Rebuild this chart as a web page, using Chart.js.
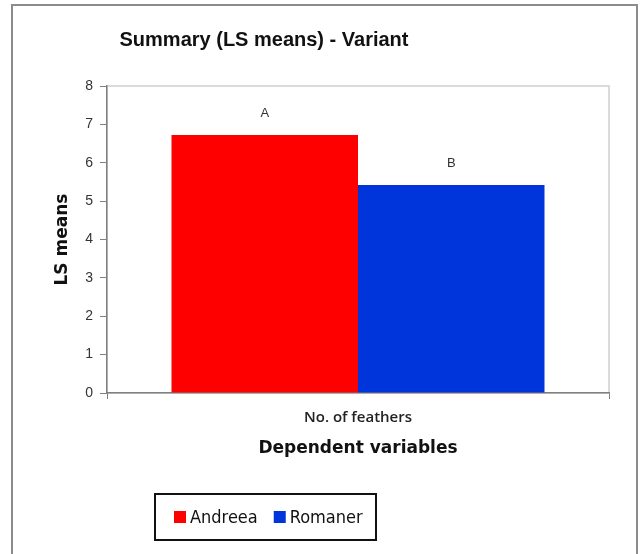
<!DOCTYPE html>
<html>
<head>
<meta charset="utf-8">
<script src="https://cdn.jsdelivr.net/npm/chart.js@4"></script>
<style>
  html, body { margin: 0; padding: 0; background: #fff; }
  #wrap { width: 644px; height: 554px; }
</style>
</head>
<body>
<div id="wrap"><canvas id="BarChart"></canvas></div>
<script>
// chart values
const categories = ["No. of feathers"];
const seriesNames = ["Andreea", "Romaner"];
const andreeaValues = [6.72];
const romanerValues = [5.42];
const groupLetters = [["A"], ["B"]];
const yTicks = [0, 1, 2, 3, 4, 5, 6, 7, 8];

const red = "#ff0000", blue = "#0035dc";

// frame, plot border, title, letters and legend box
const decor = {
    id: "decor",
    beforeDraw(chart){
        const ctx = chart.ctx;
        ctx.save();
        ctx.fillStyle = "#fff";
        ctx.fillRect(0, 0, chart.width, chart.height);
        ctx.strokeStyle = "#8c8c8c";
        ctx.lineWidth = 2;
        ctx.strokeRect(12, 5, 625, 560);
        const a = chart.chartArea;
        ctx.strokeStyle = "#cfcfcf";
        ctx.lineWidth = 1.5;
        ctx.strokeRect(a.left, a.top, a.right - a.left, a.bottom - a.top);
        ctx.restore();
    },
    afterDraw(chart){
        const ctx = chart.ctx;
        ctx.save();
        // title
        ctx.fillStyle = "#111";
        ctx.font = "bold 20px 'Liberation Sans', Arial, sans-serif";
        ctx.textAlign = "center";
        ctx.textBaseline = "middle";
        ctx.fillText("Summary (LS means) - Variant", 264, 40);
        // letters above bars
        ctx.font = "13px 'Liberation Sans', Arial, sans-serif";
        ctx.fillStyle = "#333";
        chart.data.datasets.forEach((ds, i) => {
            chart.getDatasetMeta(i).data.forEach((bar, j) => {
                ctx.fillText(groupLetters[i][j], bar.x, bar.y - 22);
            });
        });
        // legend
        ctx.strokeStyle = "#111";
        ctx.lineWidth = 2;
        ctx.strokeRect(155, 494, 221, 46);
        ctx.font = "18px 'DejaVu Sans Condensed', 'DejaVu Sans', sans-serif";
        ctx.textAlign = "left";
        let x = 174;
        chart.data.datasets.forEach(ds => {
            ctx.fillStyle = ds.backgroundColor;
            ctx.fillRect(x, 511, 12, 12);
            ctx.fillStyle = "#111";
            ctx.fillText(ds.label, x + 16, 518);
            x += 16 + ctx.measureText(ds.label).width + 16;
        });
        ctx.restore();
    }
};

new Chart(document.getElementById("BarChart"), {
    type: "bar",
    data: {
        labels: categories,
        datasets: [
            { label: seriesNames[0], data: andreeaValues, backgroundColor: red },
            { label: seriesNames[1], data: romanerValues, backgroundColor: blue }
        ]
    },
    options: {
        responsive: true,
        maintainAspectRatio: false,
        animation: false,
        layout: { padding: { left: 52, right: 35, top: 86, bottom: 91 } },
        datasets: { bar: { categoryPercentage: 0.743, barPercentage: 1.0 } },
        plugins: {
            legend: { display: false },
            title: { display: false },
            tooltip: { enabled: false }
        },
        scales: {
            x: {
                grid: { display: true, drawOnChartArea: false, offset: true, tickLength: 6, color: "#808080" },
                border: { display: true, color: "#808080", width: 1.5 },
                ticks: { padding: 10, color: "#222", font: { family: "'Open Sans', sans-serif", size: 15, weight: "600" } },
                title: {
                    display: true, text: "Dependent variables", color: "#111",
                    font: { family: "'DejaVu Sans', sans-serif", size: 17, weight: "bold" },
                    padding: { top: 4, bottom: 4 }
                },
                afterFit(scale){ scale.height = 70; }
            },
            y: {
                min: 0, max: 8,
                afterBuildTicks(scale){ scale.ticks = yTicks.map(v => ({ value: v })); },
                grid: { display: true, drawOnChartArea: false, tickLength: 7, color: "#808080" },
                border: { display: true, color: "#808080", width: 1.5 },
                ticks: { padding: 7, color: "#333", font: { family: "'Liberation Sans', Arial, sans-serif", size: 14 } },
                title: {
                    display: true, text: "LS means", color: "#111",
                    font: { family: "'DejaVu Sans', sans-serif", size: 17, weight: "bold" },
                    padding: { top: 0, bottom: 0 }
                },
                afterFit(scale){ scale.width = 55; }
            }
        }
    },
    plugins: [decor]
});
</script>
</body>
</html>
